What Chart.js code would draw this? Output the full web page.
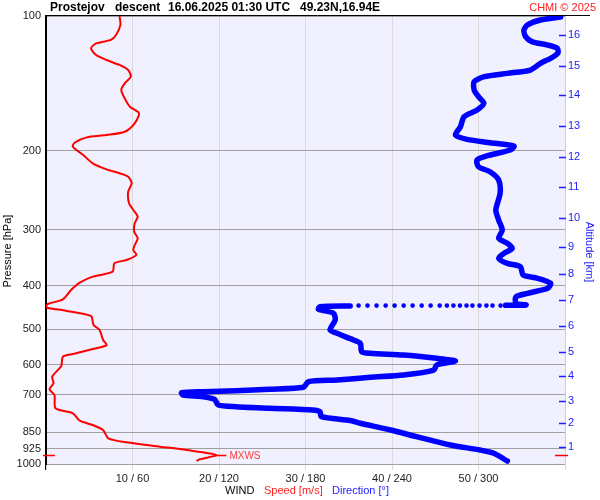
<!DOCTYPE html>
<html>
<head>
<meta charset="utf-8">
<script src="https://cdn.jsdelivr.net/npm/chart.js@4.4.1/dist/chart.umd.min.js"></script>
<style>
  html, body { margin: 0; padding: 0; background: #fff; }
  #wrap { width: 600px; height: 500px; }
</style>
</head>
<body>
<div id="wrap"><canvas id="sonde" width="600" height="500"></canvas></div>
<script>
// ---- axis ticks ----
const pressureTicks = [100, 200, 300, 400, 500, 600, 700, 850, 925, 1000];
const speedTicks = [0, 10, 20, 30, 40, 50, 60];
const altitudeKm = [1, 2, 3, 4, 5, 6, 7, 8, 9, 10, 11, 12, 13, 14, 15, 16];
const altitudePres = [916, 810, 723, 636, 562, 492, 430, 377, 328, 282, 241, 206, 176, 150, 129, 110];

// ---- wind speed profile [hPa] / [m/s] ----
const speedPres = [100, 104.7, 110.3, 113.1, 115.1, 118.1, 122.2, 125.4, 128.6, 132, 136.6, 141.4, 146.3, 152.7,
  159.4, 164.9, 173.6, 181.3, 184.4, 186.6, 191.8, 195.8, 204.3, 213.2, 219.9, 224.4, 228.4, 236.3, 246.7,
  261.9, 271, 280.5, 290.2, 303, 313.6, 324.6, 333, 341.6, 350.5, 356.5, 372.2, 381.8, 393.8, 408.9, 429,
  439.4, 445.6, 449.2, 454.8, 467.3, 489.5, 502.2, 528.7, 542.5, 551.7, 568.3, 576.2, 604.3, 638.4, 660.5,
  681.3, 701.5, 751.1, 770.5, 800.4, 818.3, 839.7, 876.2, 894.5, 914.7, 930.7, 954.8, 976.1, 984.7];
const speedVals = [8.5, 8.6, 8.1, 7.5, 5.8, 5.2, 5.8, 7.0, 8.5, 9.5, 9.8, 9.1, 8.7, 9.1,
  9.7, 10.75, 10.25, 9.1, 7.0, 4.7, 3.3, 3.1, 4.3, 5.4, 7.0, 8.5, 9.5, 9.9, 9.5,
  9.6, 10.1, 10.6, 10.25, 10.2, 10.6, 10.25, 10.1, 10.45, 9.3, 7.9, 7.7, 5.4, 3.9, 2.9, 1.95,
  0.2, 0.0, 0.4, 2.3, 5.2, 5.5, 6.2, 6.6, 7.0, 5.8, 3.1, 1.95, 1.76, 0.72, 0.87,
  0.41, 0.98, 1.1, 3.1, 3.9, 5.4, 6.6, 7.2, 9.3, 13.2, 16.25, 19.7, 17.8, 17.4];

// ---- wind direction profile [hPa] / [deg] ----
const dirUpperPres = [100.5, 102.1, 104.7, 107.5, 111.2, 114.1, 116.1, 118.1, 121.1, 124.3, 127.5, 132, 134.3,
  136.6, 140.2, 146.3, 151.4, 156.6, 162.1, 167.8, 176.7, 184.4, 188.5, 191.8, 195.1, 199.1, 204.3, 209.6,
  217, 222.6, 232.3, 248.8, 271, 285.4, 300.5, 313.6, 321.7, 330.1, 338.7, 347.4, 356.5, 362.7, 378.6,
  385.1, 395.1, 405.4, 415.9, 423.3, 437.8, 441.5, 442.5];
const dirUpperVals = [357, 343, 334, 331.5, 332.7, 337, 348, 354.7, 355, 350, 343, 336, 320,
  304, 297, 297, 300, 303.7, 299, 290, 287.5, 284, 292, 308, 324.6, 322, 308, 299,
  300, 308, 314, 315, 312, 314, 316.5, 314, 320, 323.4, 317.6, 314, 320, 329, 331,
  341, 350, 348, 334, 326, 326, 333, 318.8];
// sparse points of the fast fall
const gapPres = [443, 443, 443, 443, 443, 443, 443, 443, 443, 443, 443, 443, 443, 443, 443, 443, 443, 443, 443];
const gapVals = [315.3, 309.7, 305.5, 300.7, 295.8, 291.7, 287.1, 282.6, 278.1, 273.1, 266.8, 260.6, 254.3,
  248.1, 241.8, 235.6, 229.3, 223.0, 216.8];
const dirLowerPres = [443.9, 445.6, 451.5, 460.9, 477.1, 502.2, 510.9, 528.7, 537.8, 561.5, 566.2, 571.2, 581,
  589.1, 601.2, 616.9, 632.8, 640.4, 649.4, 655.1, 674.2, 681.3, 686.1, 689.6, 693.2, 701.5, 707.6, 717.2,
  738.5, 745, 751.1, 757.7, 764.3, 784.2, 800, 811.2, 839.7, 869, 907, 930.7, 946.5, 984.7];
const dirLowerVals = [211, 190, 189, 199.4, 200.6, 197, 201.8, 213.3, 218, 219, 225, 248, 271,
  284, 271, 269, 248, 225, 202, 182, 178.5, 155, 132, 109, 94, 95, 109, 117,
  119.4, 132, 155, 185, 190, 191, 211, 218, 239, 257, 280.5, 301, 310.6, 320];

const toPts = (pres, vals) => pres.map((p, i) => ({ x: vals[i], y: p }));

const FONT = '"Liberation Sans", Arial, sans-serif';
Chart.defaults.font.family = FONT;

const decor = {
  id: 'decor',
  beforeDraw(chart) {
    const { ctx, chartArea: a } = chart;
    ctx.save();
    ctx.fillStyle = '#fff';
    ctx.fillRect(0, 0, chart.width, chart.height);
    ctx.fillStyle = '#f0f0ff';
    ctx.fillRect(a.left, a.top, a.right - a.left, a.bottom - a.top);
    ctx.restore();
  },
  afterDraw(chart) {
    const { ctx, chartArea: a, scales } = chart;
    ctx.save();
    // top rule and left axis
    ctx.strokeStyle = '#000';
    ctx.lineWidth = 1;
    ctx.beginPath();
    ctx.moveTo(a.left - 1, a.top - 0.5);
    ctx.lineTo(590, a.top - 0.5);
    ctx.moveTo(a.left - 0.5, a.top);
    ctx.lineTo(a.left - 0.5, a.bottom + 6);
    ctx.stroke();

    // altitude tick marks inside the plot
    ctx.strokeStyle = '#2020ff';
    ctx.lineWidth = 1.5;
    ctx.beginPath();
    scales.alt.ticks.forEach(t => {
      const py = Math.round(scales.alt.getPixelForValue(t.value)) + 0.5;
      ctx.moveTo(a.right - 6, py);
      ctx.lineTo(a.right + 1, py);
    });
    ctx.stroke();

    // max wind marker
    let iMax = 0;
    speedVals.forEach((v, i) => { if (v > speedVals[iMax]) iMax = i; });
    const mx = scales.x.getPixelForValue(speedVals[iMax]);
    const my = Math.round(scales.y.getPixelForValue(speedPres[iMax])) + 0.5;
    ctx.strokeStyle = '#ff0000';
    ctx.lineWidth = 1.5;
    ctx.beginPath();
    ctx.moveTo(mx, my); ctx.lineTo(mx + 10, my);
    ctx.moveTo(a.left - 3, my); ctx.lineTo(a.left + 9, my);
    ctx.moveTo(a.right - 10, my); ctx.lineTo(a.right + 3, my);
    ctx.stroke();
    ctx.fillStyle = '#ff4040';
    ctx.font = '10px ' + FONT;
    ctx.textBaseline = 'middle';
    ctx.fillText('MXWS', mx + 13, my + 1);

    // title
    ctx.fillStyle = '#000';
    ctx.font = 'bold 12px ' + FONT;
    ctx.textBaseline = 'middle';
    ctx.fillText('Prostejov', 50, 8);
    ctx.fillText('descent', 115, 8);
    ctx.fillText('16.06.2025 01:30 UTC', 168, 8);
    ctx.fillText('49.23N,16.94E', 300, 8);
    ctx.fillStyle = '#ff2020';
    ctx.font = '11px ' + FONT;
    ctx.textAlign = 'right';
    ctx.fillText('CHMI \u00a9 2025', 596, 8);

    // bottom axis caption
    ctx.textAlign = 'left';
    ctx.fillStyle = '#000';
    ctx.fillText('WIND', 225, 491);
    ctx.fillStyle = '#ff2020';
    ctx.fillText('Speed [m/s]', 264, 491);
    ctx.fillStyle = '#2020ff';
    ctx.fillText('Direction [\u00b0]', 332, 491);

    // side captions
    ctx.textAlign = 'center';
    ctx.save();
    ctx.translate(8, 251);
    ctx.rotate(-Math.PI / 2);
    ctx.fillStyle = '#000';
    ctx.fillText('Pressure [hPa]', 0, 0);
    ctx.restore();
    ctx.save();
    ctx.translate(589, 252);
    ctx.rotate(Math.PI / 2);
    ctx.fillStyle = '#2020ff';
    ctx.fillText('Altitude [km]', 0, 0);
    ctx.restore();
    ctx.restore();
  }
};

new Chart(document.getElementById('sonde'), {
  type: 'scatter',
  data: {
    datasets: [
      {
        label: 'Direction',
        data: toPts(dirUpperPres, dirUpperVals),
        xAxisID: 'xd', yAxisID: 'y',
        showLine: true, borderColor: '#0000ff', borderWidth: 5.5,
        borderCapStyle: 'round', borderJoinStyle: 'round',
        pointRadius: 0, tension: 0.25
      },
      {
        label: 'Direction (fall)',
        data: toPts(gapPres, gapVals),
        xAxisID: 'xd', yAxisID: 'y',
        showLine: false, pointRadius: 2.3, borderWidth: 0,
        backgroundColor: '#0000ff'
      },
      {
        label: 'Direction (low)',
        data: toPts(dirLowerPres, dirLowerVals),
        xAxisID: 'xd', yAxisID: 'y',
        showLine: true, borderColor: '#0000ff', borderWidth: 5.5,
        borderCapStyle: 'round', borderJoinStyle: 'round',
        pointRadius: 0, tension: 0.25
      },
      {
        label: 'Speed',
        data: toPts(speedPres, speedVals),
        xAxisID: 'x', yAxisID: 'y',
        showLine: true, borderColor: '#ff0000', borderWidth: 2,
        pointRadius: 0, tension: 0.25
      }
    ]
  },
  options: {
    responsive: false,
    animation: false,
    events: [],
    layout: { padding: { top: 16, left: 0, right: 0, bottom: 0 } },
    plugins: { legend: { display: false }, tooltip: { enabled: false } },
    scales: {
      x: {
        type: 'linear', position: 'bottom', min: 0, max: 60,
        afterFit: s => { s.height = 36; },
        afterBuildTicks: s => { s.ticks = speedTicks.map(v => ({ value: v })); },
        ticks: {
          padding: 2, color: '#222', font: { size: 11 }, maxRotation: 0, autoSkip: false,
          callback: v => (v > 0 && v < 60) ? `${v} / ${v * 6}` : ''
        },
        grid: { color: '#dadada', tickColor: '#dadada', tickLength: 6 },
        border: { color: '#a0a0a0' }
      },
      xd: { type: 'linear', min: 0, max: 360, display: false },
      y: {
        type: 'logarithmic', position: 'left', reverse: true, min: 100, max: 1000,
        afterFit: s => { s.width = 46; },
        afterBuildTicks: s => { s.ticks = pressureTicks.map(v => ({ value: v })); },
        ticks: { padding: 5, color: '#222', font: { size: 11 }, autoSkip: false, callback: v => String(v) },
        grid: { color: '#a0a0a0', drawTicks: false },
        border: { color: '#000' }
      },
      alt: {
        type: 'logarithmic', position: 'right', reverse: true, min: 100, max: 1000,
        afterFit: s => { s.width = 35; },
        afterBuildTicks: s => { s.ticks = altitudePres.map(v => ({ value: v })); },
        ticks: { padding: 3, color: '#2020ff', font: { size: 11 }, autoSkip: false, callback: (v, i) => String(altitudeKm[i]) },
        grid: { display: false, drawTicks: false },
        border: { color: '#d0d0d0' }
      }
    }
  },
  plugins: [decor]
});
</script>
</body>
</html>
